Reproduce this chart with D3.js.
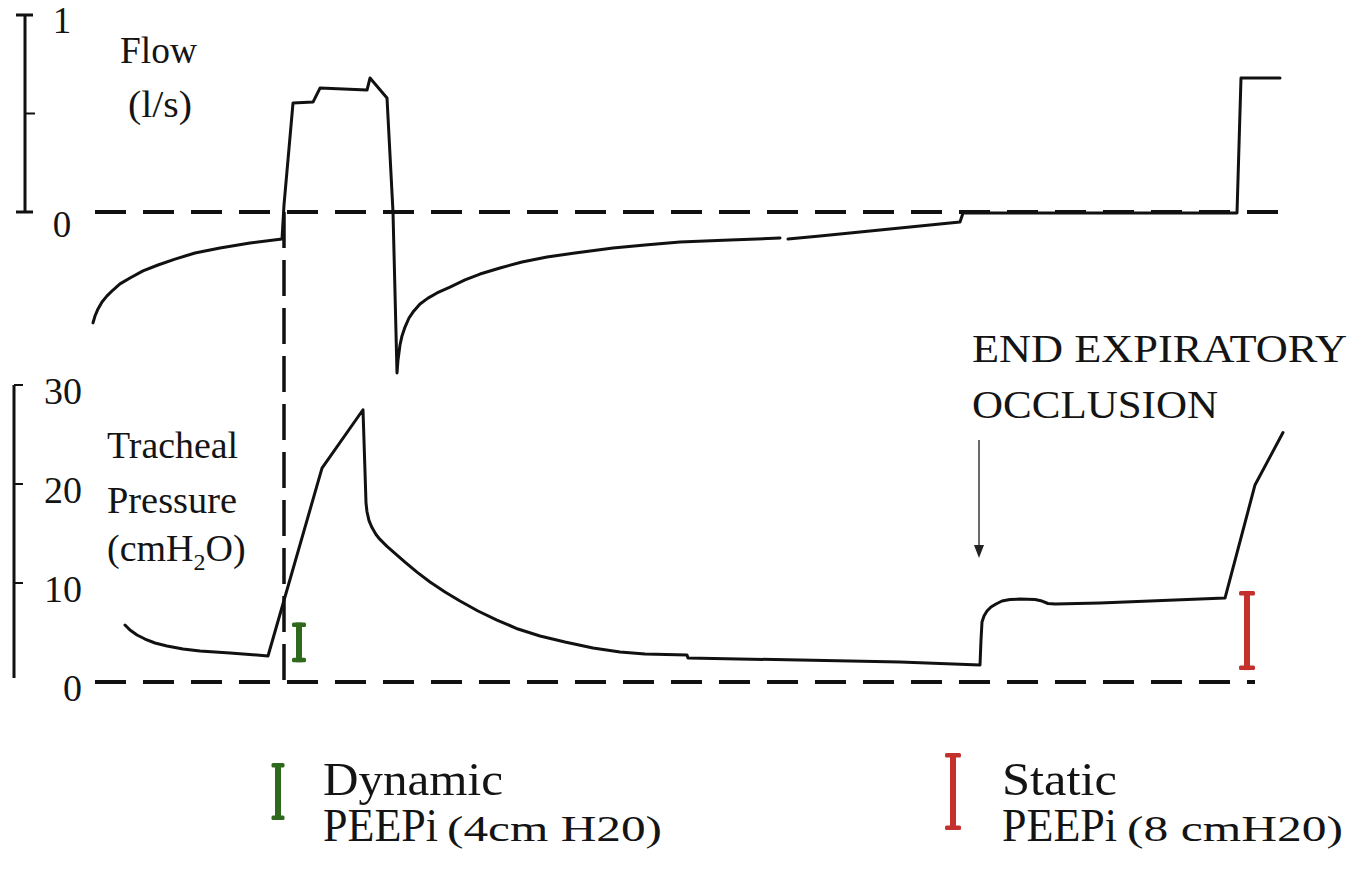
<!DOCTYPE html>
<html>
<head>
<meta charset="utf-8">
<script src="https://cdn.jsdelivr.net/npm/d3@7"></script>
<style>
  html, body { margin: 0; padding: 0; background: #fff; }
  svg { display: block; }
  text { font-family: "Liberation Serif", "Times New Roman", serif; fill: #141414; }
</style>
</head>
<body>
<svg id="chart" width="1350" height="878"></svg>
<script>
// Time in seconds for the flow trace and flow (l/s); null marks the pen gap
const flowTime = [0, 0.01, 0.025, 0.045, 0.07, 0.1, 0.135, 0.185, 0.25, 0.325, 0.41, 0.51,
  0.635, 0.785, 0.945, 0.955, 1.0, 1.1, 1.135, 1.37, 1.385, 1.47, 1.5, 1.52, 1.525, 1.535,
  1.545, 1.56, 1.58, 1.6, 1.635, 1.675, 1.72, 1.785, 1.86, 1.935, 2.035, 2.145, 2.27, 2.41,
  2.6, 2.76, 2.935, 3.185, 3.435, 3.455, 3.475, 3.635, 3.935, 4.335, 4.35, 5.72, 5.74, 5.935];
const flowValues = [-0.563, -0.528, -0.492, -0.457, -0.426, -0.396, -0.365, -0.335, -0.299,
  -0.269, -0.239, -0.208, -0.183, -0.157, -0.137, 0.036, 0.553, 0.558, 0.629, 0.619, 0.68,
  0.579, 0, -0.817, -0.751, -0.675, -0.629, -0.584, -0.538, -0.508, -0.467, -0.437, -0.411,
  -0.381, -0.345, -0.315, -0.284, -0.254, -0.228, -0.208, -0.183, -0.168, -0.152, -0.142,
  -0.132, null, -0.137, -0.122, -0.091, -0.051, -0.005, -0.005, 0.68, 0.68];

// Time in seconds for the tracheal pressure trace and pressure (cmH2O)
const pressureTime = [0.16, 0.185, 0.22, 0.26, 0.31, 0.37, 0.45, 0.535, 0.685, 0.875, 1.145,
  1.35, 1.365, 1.37, 1.38, 1.395, 1.415, 1.435, 1.47, 1.51, 1.56, 1.62, 1.685, 1.76, 1.835,
  1.925, 2.02, 2.125, 2.235, 2.36, 2.5, 2.635, 2.76, 2.97, 2.975, 3.535, 4.035, 4.435, 4.44,
  4.445, 4.455, 4.47, 4.49, 4.515, 4.545, 4.585, 4.635, 4.71, 4.745, 4.775, 4.81, 5.035,
  5.66, 5.81, 5.95];
const pressureValues = [5.76, 5.25, 4.75, 4.34, 3.94, 3.64, 3.33, 3.13, 2.93, 2.63, 21.6,
  27.5, 18.1, 17.2, 16.3, 15.6, 14.9, 14.4, 13.7, 13.0, 12.1, 11.1, 10.1, 9.09, 8.18, 7.17,
  6.26, 5.35, 4.65, 4.04, 3.43, 3.03, 2.83, 2.73, 2.42, 2.22, 2.02, 1.72, 4.24, 6.06, 6.67,
  7.17, 7.58, 7.88, 8.18, 8.33, 8.38, 8.33, 8.18, 7.93, 7.88, 7.98, 8.48, 19.9, 25.2];

// Axis tick labels
const flowTickValues = [0, 1];
const flowTickMarks = [0.5];
const pressureTickValues = [0, 10, 20, 30];
const pressureTickMarks = [10, 20, 30];

// Intrinsic PEEP markers: time, base pressure, magnitude (cmH2O)
const peepNames = ["Dynamic", "Static"];
const peepTime = [1.03, 5.77];
const peepBase = [2.0, 1.2];
const peepMagnitude = [4, 8];
const peepNotes = ["(4cm H20)", "(8 cmH20)"];

// Time at which inspiration starts and when the occlusion is applied
const inspirationStart = 0.955;
const occlusionTime = 4.43;

const svg = d3.select("#chart");
const ink = "#111";
const green = "#2f6a1c";
const red = "#c4312d";

const x = d3.scaleLinear().domain([0, 5.95]).range([93, 1283]);
const yFlow = d3.scaleLinear().domain([0, 1]).range([212, 15]);
const yPres = d3.scaleLinear().domain([0, 30]).range([682, 385]);

const flowData = flowTime.map((t, i) => ({ t, v: flowValues[i] }));
const presData = pressureTime.map((t, i) => ({ t, v: pressureValues[i] }));

// ---- Flow axis (scale bar on the left)
const fAx = svg.append("g");
fAx.append("line").attr("x1", 25).attr("x2", 25)
  .attr("y1", yFlow(1)).attr("y2", yFlow(0))
  .attr("stroke", ink).attr("stroke-width", 3);
[1, 0].forEach(v => {
  fAx.append("line").attr("x1", 16).attr("x2", 33)
    .attr("y1", yFlow(v)).attr("y2", yFlow(v))
    .attr("stroke", ink).attr("stroke-width", 3);
});
flowTickMarks.forEach(v => {
  fAx.append("line").attr("x1", 25).attr("x2", 35)
    .attr("y1", yFlow(v)).attr("y2", yFlow(v))
    .attr("stroke", ink).attr("stroke-width", 2);
});
fAx.selectAll("text.tick").data(flowTickValues).join("text")
  .attr("class", "tick")
  .attr("x", 62).attr("y", v => yFlow(v) + (v === 0 ? 25 : 18))
  .attr("text-anchor", "middle").attr("font-size", 37)
  .text(d => d);

// ---- Pressure axis
const pAx = svg.append("g");
pAx.append("line").attr("x1", 14).attr("x2", 14)
  .attr("y1", yPres(30)).attr("y2", yPres(0.4))
  .attr("stroke", ink).attr("stroke-width", 3);
pressureTickMarks.forEach(v => {
  pAx.append("line").attr("x1", 14).attr("x2", 23)
    .attr("y1", yPres(v)).attr("y2", yPres(v))
    .attr("stroke", ink).attr("stroke-width", 2);
});
pAx.selectAll("text.tick").data(pressureTickValues).join("text")
  .attr("class", "tick")
  .attr("x", 82).attr("y", v => yPres(v) + 19)
  .attr("text-anchor", "end").attr("font-size", 38)
  .text(d => d);

// ---- Zero lines and inspiration-start marker (dashed)
svg.append("line")
  .attr("x1", x(0.01)).attr("x2", x(5.935))
  .attr("y1", yFlow(0)).attr("y2", yFlow(0))
  .attr("stroke", ink).attr("stroke-width", 4).attr("stroke-dasharray", "31 17");
svg.append("line")
  .attr("x1", x(0.01)).attr("x2", x(5.81))
  .attr("y1", yPres(0)).attr("y2", yPres(0))
  .attr("stroke", ink).attr("stroke-width", 4).attr("stroke-dasharray", "31 17");
svg.append("line")
  .attr("x1", x(inspirationStart)).attr("x2", x(inspirationStart))
  .attr("y1", yFlow(0)).attr("y2", yPres(-0.8))
  .attr("stroke", ink).attr("stroke-width", 3.5).attr("stroke-dasharray", "36 12");

// ---- Traces
const flowLine = d3.line()
  .defined(d => d.v !== null)
  .x(d => x(d.t)).y(d => yFlow(d.v));
svg.append("path").datum(flowData)
  .attr("d", flowLine)
  .attr("fill", "none").attr("stroke", ink).attr("stroke-width", 3)
  .attr("stroke-linejoin", "round").attr("stroke-linecap", "round");

const presLine = d3.line().x(d => x(d.t)).y(d => yPres(d.v));
svg.append("path").datum(presData)
  .attr("d", presLine)
  .attr("fill", "none").attr("stroke", ink).attr("stroke-width", 3)
  .attr("stroke-linejoin", "round").attr("stroke-linecap", "round");

// ---- I-shaped PEEPi markers
function iBar(g, cx, yTop, yBot, color, capW) {
  g.append("rect").attr("x", cx - 3).attr("y", yTop).attr("width", 6)
    .attr("height", yBot - yTop).attr("fill", color);
  [yTop, yBot - 4.5].forEach(yy => {
    g.append("rect").attr("x", cx - capW / 2).attr("y", yy)
      .attr("width", capW).attr("height", 4.5).attr("rx", 1.5).attr("fill", color);
  });
}
const colors = [green, red];
peepTime.forEach((t, i) => {
  iBar(svg.append("g"), x(t), yPres(peepBase[i] + peepMagnitude[i]),
    yPres(peepBase[i]), colors[i], i === 0 ? 14 : 16);
});

// ---- Panel labels
function label(txt, px, py, size, len) {
  const t = svg.append("text").attr("x", px).attr("y", py)
    .attr("font-size", size).text(txt);
  if (len) t.attr("textLength", len).attr("lengthAdjust", "spacingAndGlyphs");
  return t;
}
label("Flow", 120, 63, 38, 77);
label("(l/s)", 128, 117, 38, 64);
label("Tracheal", 107, 458, 38, 131);
label("Pressure", 107, 513, 38, 130);
const cm = svg.append("text").attr("x", 107).attr("y", 561).attr("font-size", 38);
cm.append("tspan").text("(cmH");
cm.append("tspan").attr("font-size", 24).attr("dy", 9).text("2");
cm.append("tspan").attr("dy", -9).text("O)");

// ---- Occlusion annotation
label("END EXPIRATORY", 972, 362, 39, 375);
label("OCCLUSION", 972, 418, 39, 246);
const ax = x(occlusionTime);
svg.append("line").attr("x1", ax).attr("x2", ax).attr("y1", 440).attr("y2", 547)
  .attr("stroke", "#444").attr("stroke-width", 1.6);
svg.append("path")
  .attr("d", `M${ax - 5},545 L${ax + 5},545 L${ax},558 Z`)
  .attr("fill", "#222");

// ---- Legend
const legendX = [278, 953];
const legendTextX = [323, 1002];
const legendBar = [[763, 820], [753, 830]];
const legendNameLen = [180, 115];
const legendNoteX = [447, 1127];
const legendNoteLen = [215, 216];
peepNames.forEach((name, i) => {
  iBar(svg.append("g"), legendX[i], legendBar[i][0], legendBar[i][1], colors[i], i === 0 ? 13 : 16);
  label(name, legendTextX[i], 795, 47, legendNameLen[i]);
  label("PEEPi", legendTextX[i], 841, 46, 115);
  label(peepNotes[i], legendNoteX[i], 841, 35, legendNoteLen[i]);
});
</script>
</body>
</html>
